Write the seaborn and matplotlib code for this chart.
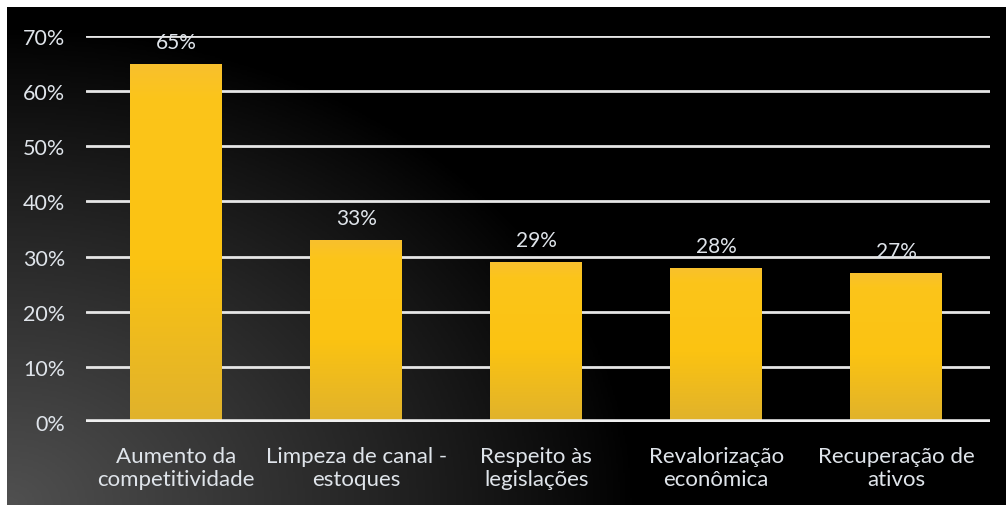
import numpy as np
import pandas as pd
import matplotlib
matplotlib.use("Agg")
import matplotlib.pyplot as plt
from matplotlib.colors import LinearSegmentedColormap
import seaborn as sns

categories = [
    "Aumento da\ncompetitividade",
    "Limpeza de canal -\nestoques",
    "Respeito às\nlegislações",
    "Revalorização\neconômica",
    "Recuperação de\nativos",
]
values = [65, 33, 29, 28, 27]
yticks = [0, 10, 20, 30, 40, 50, 60, 70]
ytick_labels = ["0%", "10%", "20%", "30%", "40%", "50%", "60%", "70%"]

TEXT = "#dfe4ea"
GRID = "#e6e6e6"

sns.set_theme(style="white")
plt.rcParams["font.family"] = ["Lato", "DejaVu Sans"]

W, H = 1006, 506
fig = plt.figure(figsize=(W / 100, H / 100), dpi=100)
fig.patch.set_facecolor("white")

# Dark backdrop, lighter toward the lower-left corner
bg = fig.add_axes([7 / W, 0, 1 - 7 / W, 1 - 8 / H], zorder=0)
yy, xx = np.mgrid[0:1:300j, 0:1:600j]
d = np.sqrt((xx * 999 / 630) ** 2 + ((1 - yy) * 498 / 480) ** 2)
shade = np.clip(1 - d, 0, 1) ** 0.9
bg_cmap = LinearSegmentedColormap.from_list("bg", ["#000000", "#505050"])
bg.imshow(shade, cmap=bg_cmap, vmin=0, vmax=1, aspect="auto",
          extent=[0, 1, 0, 1], origin="upper")
bg.set_axis_off()

ax = fig.add_axes([86 / W, (H - 423) / H, (990 - 86) / W, (423 - 37) / H], zorder=1)
ax.patch.set_alpha(0)

df = pd.DataFrame({"categoria": categories, "valor": values})
sns.barplot(data=df, x="categoria", y="valor", color="#fcc514", width=0.51,
            ax=ax, zorder=3, saturation=1, linewidth=0, edgecolor="none")

# Vertical golden gradient inside each bar
bar_cmap = LinearSegmentedColormap.from_list(
    "bar", [(0, "#e0b22c"), (0.45, "#fbc312"), (0.9, "#fcc51a"), (1, "#f8c02e")])
grad = np.linspace(0, 1, 256).reshape(-1, 1)
for p in ax.patches:
    x0, y0 = p.get_x(), p.get_y()
    w, h = p.get_width(), p.get_height()
    im = ax.imshow(grad, cmap=bar_cmap, aspect="auto", origin="lower",
                   extent=[x0, x0 + w, y0, y0 + h], zorder=3.5)
    im.set_clip_path(p)
    ax.text(x0 + w / 2, h + 4, f"{h:.0f}%", ha="center", va="center",
            color=TEXT, fontsize=15, zorder=5, clip_on=False)

ax.set_xlim(-0.5, 4.52)
ax.set_ylim(0, 70)
ax.set_yticks(yticks)
ax.set_yticklabels(ytick_labels)
for y in yticks[1:]:
    ax.axhline(y, color=GRID, lw=2, zorder=1)
ax.axhline(0, color="#f0f0f0", lw=4, zorder=4)

ax.set_xlabel("")
ax.set_ylabel("")
for s in ax.spines.values():
    s.set_visible(False)
ax.tick_params(axis="y", colors=TEXT, labelsize=15.5, length=0, pad=15)
ax.tick_params(axis="x", colors=TEXT, labelsize=16, length=0, pad=17)
for lbl in ax.get_xticklabels():
    lbl.set_linespacing(1.22)

fig.savefig("out.png", dpi=100, facecolor=fig.get_facecolor())
